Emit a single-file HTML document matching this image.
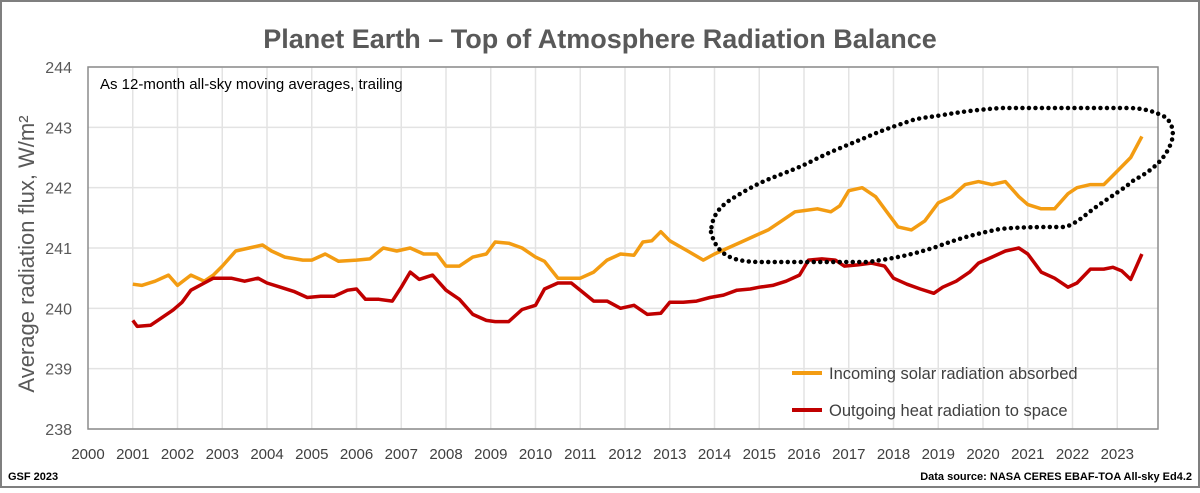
<!DOCTYPE html>
<html><head><meta charset="utf-8"><style>
body{margin:0;background:#fff;}
svg text{font-family:"Liberation Sans",sans-serif;}
</style></head><body>
<svg width="1200" height="488" viewBox="0 0 1200 488" xmlns="http://www.w3.org/2000/svg">
<rect x="1" y="1" width="1198" height="486" fill="#fff" stroke="#7f7f7f" stroke-width="2"/>
<text x="600" y="48" text-anchor="middle" font-size="27" font-weight="bold" fill="#595959">Planet Earth – Top of Atmosphere Radiation Balance</text>
<g id="grid"></g>
<rect x="88" y="67" width="1070" height="362" fill="none" stroke="#8c8c8c" stroke-width="1.5"/>
<text x="100" y="89" font-size="15" fill="#000">As 12-month all-sky moving averages, trailing</text>
<text transform="translate(34,254) rotate(-90)" text-anchor="middle" font-size="22" fill="#595959">Average radiation flux, W/m²</text>
<g id="series"></g>
<path d="M711,232 C716,252 728,262 760,262 L867,262 C900,258 920,252 936,247 C955,240 970,235 1000,229 C1020,227 1040,227 1064,227 C1075,225 1085,215 1096,207 C1110,197 1125,188 1134,180 C1150,172 1165,160 1171,143 C1176,130 1170,118 1161,115 C1150,110 1140,108 1127,108 L1001,108 C975,110 960,112 943,115 C930,117 920,118 913,120 C895,126 880,131 867,137 C845,146 830,152 814,160 C795,170 775,176 760,183 C748,189 738,195 730,200 C720,207 712,215 711,232 Z" fill="none" stroke="#000" stroke-width="4.5" stroke-linecap="round" stroke-dasharray="0 6.5"/>
<g>
<line x1="792" y1="373" x2="822" y2="373" stroke="#f39c12" stroke-width="4"/>
<text x="829" y="379" font-size="16.5" fill="#404040">Incoming solar radiation absorbed</text>
<line x1="792" y1="410" x2="822" y2="410" stroke="#c00000" stroke-width="4"/>
<text x="829" y="416" font-size="16.5" fill="#404040">Outgoing heat radiation to space</text>
</g>
<text x="8" y="480" font-size="11" font-weight="bold" fill="#000">GSF 2023</text>
<text x="1192" y="480" text-anchor="end" font-size="11" font-weight="bold" fill="#000">Data source: NASA CERES EBAF-TOA All-sky Ed4.2</text>
</svg>
<script>
const yTicks=[238,239,240,241,242,243,244];
const xTicks=[2000,2001,2002,2003,2004,2005,2006,2007,2008,2009,2010,2011,2012,2013,2014,2015,2016,2017,2018,2019,2020,2021,2022,2023];
const inTimes=[2001.0,2001.2,2001.5,2001.8,2002.0,2002.3,2002.6,2002.8,2003.0,2003.3,2003.6,2003.9,2004.1,2004.4,2004.8,2005.0,2005.3,2005.6,2006.0,2006.3,2006.6,2006.9,2007.2,2007.5,2007.8,2008.0,2008.3,2008.6,2008.9,2009.1,2009.4,2009.7,2010.0,2010.2,2010.5,2010.8,2011.0,2011.3,2011.6,2011.9,2012.2,2012.4,2012.6,2012.8,2013.0,2013.4,2013.75,2014.0,2014.3,2014.6,2014.9,2015.2,2015.5,2015.8,2016.0,2016.3,2016.6,2016.8,2017.0,2017.3,2017.6,2017.9,2018.1,2018.4,2018.7,2019.0,2019.3,2019.6,2019.9,2020.2,2020.5,2020.8,2021.0,2021.3,2021.6,2021.9,2022.1,2022.4,2022.7,2022.9,2023.1,2023.3,2023.55];
const inValues=[240.4,240.38,240.45,240.55,240.38,240.55,240.45,240.55,240.7,240.95,241.0,241.05,240.95,240.85,240.8,240.8,240.9,240.78,240.8,240.82,241.0,240.95,241.0,240.9,240.9,240.7,240.7,240.85,240.9,241.1,241.08,241.0,240.85,240.78,240.5,240.5,240.5,240.6,240.8,240.9,240.88,241.1,241.12,241.27,241.12,240.95,240.8,240.9,241.0,241.1,241.2,241.3,241.45,241.6,241.62,241.65,241.6,241.7,241.95,242.0,241.85,241.55,241.35,241.3,241.45,241.75,241.85,242.05,242.1,242.05,242.1,241.85,241.72,241.65,241.65,241.9,242.0,242.05,242.05,242.2,242.35,242.5,242.85];
const outTimes=[2001.0,2001.1,2001.4,2001.6,2001.9,2002.1,2002.3,2002.6,2002.8,2003.0,2003.2,2003.5,2003.8,2004.0,2004.3,2004.6,2004.9,2005.2,2005.5,2005.8,2006.0,2006.2,2006.5,2006.8,2007.0,2007.2,2007.4,2007.7,2008.0,2008.3,2008.6,2008.9,2009.1,2009.4,2009.7,2010.0,2010.2,2010.5,2010.8,2011.0,2011.3,2011.6,2011.9,2012.2,2012.5,2012.8,2013.0,2013.3,2013.6,2013.9,2014.2,2014.5,2014.8,2015.0,2015.3,2015.6,2015.9,2016.1,2016.4,2016.7,2016.9,2017.2,2017.5,2017.8,2018.0,2018.3,2018.6,2018.9,2019.1,2019.4,2019.7,2019.9,2020.2,2020.5,2020.8,2021.0,2021.3,2021.6,2021.9,2022.1,2022.4,2022.7,2022.9,2023.1,2023.3,2023.55];
const outValues=[239.8,239.7,239.72,239.82,239.97,240.1,240.3,240.42,240.5,240.5,240.5,240.45,240.5,240.42,240.35,240.28,240.18,240.2,240.2,240.3,240.32,240.15,240.15,240.12,240.35,240.6,240.48,240.55,240.3,240.15,239.9,239.8,239.78,239.78,239.98,240.05,240.32,240.42,240.42,240.3,240.12,240.12,240.0,240.05,239.9,239.92,240.1,240.1,240.12,240.18,240.22,240.3,240.32,240.35,240.38,240.45,240.55,240.8,240.82,240.8,240.7,240.72,240.75,240.7,240.5,240.4,240.32,240.25,240.35,240.45,240.6,240.75,240.85,240.95,241.0,240.9,240.6,240.5,240.35,240.42,240.65,240.65,240.68,240.62,240.48,240.9];
const NS="http://www.w3.org/2000/svg";
function xs(t){return 88+44.75*(t-2000);}
function ys(v){return 429-(v-238)*(362/6);}
const grid=document.getElementById('grid');
yTicks.forEach(v=>{
  const l=document.createElementNS(NS,'line');
  l.setAttribute('x1',88);l.setAttribute('x2',1158);l.setAttribute('y1',ys(v));l.setAttribute('y2',ys(v));
  l.setAttribute('stroke','#e3e3e3');l.setAttribute('stroke-width','1.5');
  
  
  grid.appendChild(l);
  const t=document.createElementNS(NS,'text');
  t.setAttribute('x',72);t.setAttribute('y',ys(v)+6);t.setAttribute('text-anchor','end');
  t.setAttribute('font-size','16');t.setAttribute('fill','#595959');t.textContent=v;
  
  
  grid.appendChild(t);
});
xTicks.forEach(y=>{
  if(y>2000){
  const l=document.createElementNS(NS,'line');
  l.setAttribute('x1',xs(y));l.setAttribute('x2',xs(y));l.setAttribute('y1',67);l.setAttribute('y2',429);
  l.setAttribute('stroke','#e3e3e3');l.setAttribute('stroke-width','1.5');
  
  
  grid.appendChild(l);}
  const t=document.createElementNS(NS,'text');
  t.setAttribute('x',xs(y));t.setAttribute('y',459);t.setAttribute('text-anchor','middle');
  t.setAttribute('font-size','15');t.setAttribute('fill','#404040');t.textContent=y;
  
  
  grid.appendChild(t);
});
const series=document.getElementById('series');
function drawLine(ts,vs,color,name){
  const p=document.createElementNS(NS,'path');
  p.setAttribute('d',ts.map((t,i)=>(i?'L':'M')+xs(t).toFixed(1)+','+ys(vs[i]).toFixed(1)).join(''));
  p.setAttribute('fill','none');p.setAttribute('stroke',color);p.setAttribute('stroke-width','3.5');p.setAttribute('stroke-linejoin','round');
  
  
  series.appendChild(p);
}
drawLine(inTimes,inValues,'#f39c12','incoming-solar-line');
drawLine(outTimes,outValues,'#c00000','outgoing-heat-line');
</script>
</body></html>
